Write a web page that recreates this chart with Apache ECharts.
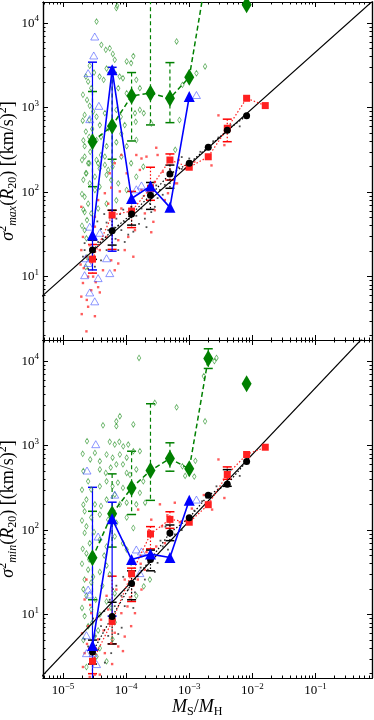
<!DOCTYPE html>
<html>
<head>
<meta charset="utf-8">
<title>sigma2 vs MS/MH</title>
<script src="https://cdn.jsdelivr.net/npm/echarts@6/dist/echarts.min.js"></script>
<style>html,body{margin:0;padding:0;background:#fff;}</style>
</head>
<body>
<div id="main" style="width:374px;height:720px"></div>
<script>
// bin centres (MS/MH)
var binX = [2.93e-5, 6.0e-5, 1.22e-4, 2.43e-4, 4.94e-4, 1.0e-3, 2.0e-3, 4.0e-3, 8.1e-3, 1.6e-2];

// top panel: sigma^2_max
var greenTop = [395, 607, 1377, 1483, 1292, 2290, 50000, '-', 16480];
var redTop = [16.1, 53.6, 59.7, 111, 240, 197, 262, 570, 1290, 1057];
var blackTop = [20.6, 35, 55, 92, 164, 220, 340, 540, 804];
var blueTop = [31, 2800, 84, 118, 66, 1350];
var greenErrTop = [[116, 1550], [245, 2600], [403, 2600], [624, 40000], [664, 3410]];
var redErrTop = [[11, 24], [21, 61], [38, 102], [80, 197], [139, 283], null, null, [395, 730]];
var blackErrTop = [[16, 27], [23.6, 61], [40.7, 75], [62.5, 130], [111, 209]];
var blueErrTop = [[12, 3450], [20, 3000]];

// bottom panel: sigma^2_min
var greenBot = [47, 156, 316, 507, 703, 531, 10770, '-', 5400];
var redBot = [2.8, 8.3, 30.5, 90, 134, 124, 200, 455, 785, 957];
var blackBot = [3.6, 9.5, 23.3, 44.8, 92.7, 140, 258, 350, 650];
var blueBot = [4.3, 136, 44.8, 52, 47.5, 226];
var greenErrBot = [[15, 167], [63, 463], [153, 858], [225, 3130], [498, 1080], null, [8190, 14000]];
var redErrBot = [[2, 4], [4.5, 28.5], [14.3, 35.5], [60, 110], [105, 165], null, null, [400, 560]];
var blackErrBot = [[2.6, 5], [4.5, 14], [15, 33], [33, 58], [75, 115], null, null, [330, 520]];
var blueErrBot = [[1, 321], [9.6, 214]];

// model lines and mass-resolution limit
var modelTop = [[1e-6, 2.1], [1, 21100]];
var modelBot = [[1e-6, 0.56], [1, 29600]];
var resLimit = 1.8e-5;

// individual haloes, top panel
var greenSmallTop = [[3.4e-5,10430],[7.0e-5,15100],[7.2e-5,16000],[4.05e-5,5530],[4.76e-5,4830],[5.5e-5,5040],[6.15e-5,4320],[6.6e-5,3675],[1.02e-4,3520],[1.3e-4,4070],[1.2e-4,3370],[2.65e-5,3130],[2.3e-5,2330],[2.5e-5,2030],[3.8e-5,2330],[4.4e-5,2130],[4.9e-5,2900],[6.1e-5,2900],[7.9e-5,2330],[8.9e-5,2230],[7.5e-5,1700],[1.02e-4,1480],[1.45e-4,2130],[1.65e-4,1700],[2.07e-5,1420],[2.4e-5,1233],[2.65e-5,1050],[2.2e-5,820],[2.6e-5,714],[3.4e-5,780],[3.83e-5,622],[4.6e-5,860],[5.2e-5,570],[7.0e-5,940],[8.2e-5,780],[9.5e-5,622],[1.38e-4,860],[1.65e-4,940],[1.9e-4,860],[1.42e-4,680],[2.5e-4,650],[2.3e-5,520],[2.6e-5,450],[2.2e-5,350],[3.4e-5,414],[4.0e-5,450],[4.9e-5,350],[7.0e-5,390],[8.4e-5,490],[1.02e-4,350],[1.45e-4,414],[2.2e-5,263],[2.6e-5,220],[3.4e-5,240],[3.8e-5,190],[4.6e-5,263],[6.1e-5,200],[8.4e-5,263],[1.2e-4,220],[1.87e-4,200],[2.3e-5,167],[3.2e-5,152],[6.3e-4,6070],[1.78e-3,3070],[1.3e-3,2550],[7.8e-4,1860],[7.0e-4,714],[2.65e-5,127],[3.2e-5,106],[2.2e-5,88],[2.5e-5,73],[2.2e-5,58],[2.4e-5,46.7],[3.8e-5,116],[4.9e-5,160],[5.8e-5,139],[7.5e-5,127],[1.02e-4,106],[2.2e-5,35.5],[2.35e-5,28.4],[2.8e-5,56],[3.6e-5,64],[4.9e-5,73],[7.0e-5,80],[1.45e-4,152],[2.4e-5,17],[2.3e-5,13],[2.5e-5,220],[2.35e-5,167],[4.0e-5,275],[4.6e-5,210],[5.2e-5,183],[6.1e-5,230],[3.6e-5,220],[2.05e-5,700],[2.1e-5,410],[2.0e-5,240],[2.1e-5,140],[2.0e-5,95],[2.1e-5,62],[2.0e-5,40],[2.7e-5,300],[2.9e-5,560],[3.0e-5,900],[2.8e-5,1700],[3.1e-5,2600],[6.0e-4,317]];
var redSmallTop = [[8.4e-5,275],[1.45e-4,275],[1.75e-4,250],[3.15e-4,275],[6.8e-4,240],[3.8e-4,174],[2.85e-4,132],[1.75e-4,106],[7.95e-5,102],[4.6e-5,97],[3.6e-5,80.5],[1.95e-5,67],[8.4e-5,64],[1.98e-4,56],[2.7e-4,44.5],[1.38e-4,35.5],[1.08e-4,29.5],[7.5e-5,27],[4.9e-5,29.5],[3.2e-5,39],[2.07e-5,29.5],[1.95e-5,20.6],[2.35e-5,17.2],[3.83e-5,20.6],[5.8e-5,15.6],[9.5e-5,20.6],[4.3e-5,11.9],[2.5e-5,10],[2.07e-5,8.4],[2.8e-5,6.9],[1.95e-5,5.8],[2.5e-5,4.4],[3.2e-5,3.4],[2.35e-5,2.25],[6.6e-5,11.9],[7.5e-5,14.3],[1.3e-4,17.2],[2.5e-4,33.5],[2.85e-4,61],[4.1e-4,80.5],[8.6e-4,188],[1.2e-3,229],[4.6e-4,97],[5.9e-4,127],[5.8e-5,113],[5.2e-5,73],[3.2e-5,51],[1.9e-5,13.9],[3.0e-5,10],[3.6e-5,7.5],[2.9e-3,810],[2.25e-3,207],[6.4e-4,127],[3.6e-3,360],[5.5e-5,167],[6.6e-5,220],[2.1e-4,263],[1.02e-4,167],[1.65e-4,183],[3.0e-4,335],[2.65e-5,23.5],[2.85e-5,14.8],[3.3e-5,8.6],[2.13e-5,12.6],[3.83e-5,6.5],[2.38e-5,5.3],[1.98e-5,3.6]];
var blackSmallTop = [[2.2e-5,24.9],[2.65e-5,28.4],[2.2e-5,20.6],[3.6e-5,25.7],[3.2e-5,19.8],[4.0e-5,36.6],[4.9e-5,43.6],[5.8e-5,31.4],[7.5e-5,40],[7.0e-5,48.5],[8.4e-5,35.5],[9.5e-5,44.5],[1.08e-4,31.4],[1.45e-4,52.5],[1.75e-4,64],[1.98e-4,48.5],[2.38e-4,73],[3.15e-4,85],[3.43e-4,106],[4.1e-4,122],[5.9e-4,152],[7.6e-4,188],[2.65e-5,15.6],[4.0e-5,15.6],[2.5e-5,12.4],[4.9e-5,20.6],[6.1e-5,23.5],[3.2e-5,13.1],[9.5e-5,25.7],[1.3e-4,34],[2.1e-4,38.5],[2.85e-4,67],[2.07e-5,17.2],[7.5e-5,20.6],[5.2e-5,35.5],[1.2e-4,67],[3.8e-4,93],[4.6e-4,139],[7.6e-4,260],[2.9e-3,443],[6.3e-3,600],[6.8e-4,196],[3.0e-5,33],[3.5e-5,45],[4.2e-5,28],[4.5e-5,55],[5.5e-5,50],[6.5e-5,38],[6.8e-5,28],[8.0e-5,55],[9.0e-5,62],[1.1e-4,48],[1.15e-4,80],[1.6e-4,42],[1.9e-4,90],[2.5e-4,58],[2.2e-4,100],[3.0e-4,120],[5.0e-4,180],[1.0e-3,250],[1.5e-3,300],[2.4e-3,400],[4.5e-3,620]];
var blueSmallTop = [[3.18e-5,6940],[3.07e-5,4140],[2.5e-5,2560],[3.7e-5,1050],[2.65e-5,730],[1.3e-3,1410],[1.75e-4,120],[1.45e-4,108],[2.65e-5,39],[2.5e-5,14.5],[2.2e-5,10.4],[3.6e-5,9.6],[5.5e-5,11],[2.65e-5,6.5],[3.18e-5,5.1],[2.3e-5,16.5],[4.9e-5,16.5],[3.83e-5,33]];

// individual haloes, bottom panel
var greenSmallBot = [[1.6e-4,10900],[2.85e-4,3210],[6.3e-4,2840],[4.3e-5,1740],[7.0e-5,1940],[7.95e-5,2230],[7.0e-5,1700],[1.3e-4,1780],[2.4e-5,1130],[3.2e-5,820],[2.7e-5,686],[3.83e-5,655],[5.5e-5,1110],[6.6e-5,1030],[7.8e-5,1110],[9.0e-5,980],[1.08e-4,1030],[1.3e-4,860],[4.9e-5,785],[6.1e-5,720],[7.95e-5,785],[1.02e-4,720],[1.65e-4,860],[3.83e-5,522],[4.76e-5,475],[5.7e-5,550],[7.0e-5,600],[8.9e-5,600],[1.02e-4,475],[1.45e-4,522],[2.5e-5,378],[2.8e-5,302],[3.83e-5,330],[4.9e-5,378],[6.1e-5,330],[7.4e-5,365],[8.9e-5,316],[1.15e-4,452],[1.65e-4,276],[1.87e-4,378],[2.35e-5,230],[3.2e-5,202],[4.0e-5,193],[4.9e-5,230],[6.6e-5,263],[7.95e-5,202],[1.02e-4,211],[1.45e-4,202],[2.0e-4,211],[2.2e-5,167],[2.8e-5,141],[3.83e-5,153],[5.2e-5,133],[7.0e-5,122],[1.02e-4,141],[1.3e-4,106],[2.35e-5,111],[2.7e-3,10900],[2.5e-3,10000],[1.7e-3,6650],[1.78e-3,1940],[1.25e-3,660],[1.2e-3,430],[7.8e-4,570],[8.6e-4,438],[2.2e-5,92.7],[2.65e-5,70],[2.35e-5,53],[3.83e-5,77],[4.9e-5,64],[6.6e-5,84],[8.9e-5,70],[2.5e-5,34],[2.2e-5,26],[2.8e-5,24],[3.83e-5,32],[4.9e-5,38],[2.35e-5,16.7],[2.8e-5,11.5],[2.2e-5,9.6],[2.5e-5,7.3],[3.83e-5,10],[4.9e-5,14.3],[6.6e-5,17.8],[1.45e-4,16.7],[1.9e-4,21.6],[2.38e-4,26],[3.83e-5,4.0],[4.9e-5,2.8],[6.1e-5,5.1],[6.6e-5,8.1],[3.2e-5,5.6],[3.4e-5,3.2],[2.35e-5,2.4],[1.2e-4,41],[1.02e-4,58.9],[2.05e-5,800],[2.1e-5,500],[2.0e-5,300],[2.1e-5,200],[2.0e-5,130],[2.05e-5,60],[2.0e-5,40],[2.1e-5,20],[2.0e-5,12],[2.1e-5,5],[2.6e-5,45],[3.0e-5,28],[3.3e-5,15],[2.9e-5,8],[3.6e-5,6.5],[4.2e-5,22],[5.5e-5,30],[5.8e-5,12],[4.5e-5,50],[3.1e-5,95]];
var redSmallBot = [[5.9e-4,211],[3.43e-4,202],[2.5e-4,133],[4.1e-4,70],[1.98e-4,34],[1.38e-4,10.4],[9.5e-5,5.5],[6.6e-5,6.1],[4.6e-5,3.5],[2.2e-5,3.5],[3.2e-5,1.95],[2.07e-5,2.4],[8.4e-5,10.4],[4.9e-5,16.7],[2.35e-5,26],[2.5e-5,7.3],[7.0e-5,19.8],[1.75e-4,19.8],[1.15e-4,16],[1.53e-4,26],[9.5e-5,26],[3.0e-4,64],[3.7e-4,111],[5.8e-5,4.6],[3.6e-5,5.1],[8.9e-5,3.7],[1.2e-4,7.3],[2.2e-5,15.1],[2.8e-5,10.4],[4.0e-5,8.7],[5.2e-5,11.5],[2.65e-5,1.83],[3.83e-5,1.95],[1.55e-4,175],[7.1e-4,124],[2.9e-3,686],[3.6e-3,240],[2.4e-5,4.5],[3.0e-5,3.0],[2.0e-5,6],[2.7e-5,13],[3.4e-5,9],[4.4e-5,6.5],[6.0e-5,2.6],[7.5e-5,4.2],[1.05e-4,12.5],[1.3e-4,22],[1.7e-4,40],[2.1e-4,55],[2.3e-4,100],[4.5e-4,150],[1.1e-3,180],[1.7e-3,260],[2.3e-3,175]];
var blackSmallBot = [[2.2e-5,5.1],[3.2e-5,5.6],[4.0e-5,7.3],[5.2e-5,5.6],[6.6e-5,8.7],[6.6e-5,12.6],[8.4e-5,16.7],[9.5e-5,12.6],[1.08e-4,19.8],[1.38e-4,18.3],[1.55e-4,28.5],[1.98e-4,26],[2.2e-4,34],[2.85e-4,32],[3.15e-4,41],[3.8e-4,64],[4.6e-4,58.9],[5.9e-4,89],[7.6e-4,100],[3.6e-5,3.85],[2.5e-5,4.2],[5.8e-5,3.5],[4.6e-5,2.7],[7.5e-5,5.9],[2.8e-5,2.7],[1.75e-4,49],[1.2e-4,41],[2.7e-3,330],[6.3e-3,438],[3.0e-5,9],[4.5e-5,11],[5.5e-5,15],[7.0e-5,22],[9.0e-5,28],[1.1e-4,33],[1.3e-4,12],[1.7e-4,36],[2.5e-4,48],[3.5e-4,75],[4.2e-4,110],[1.2e-3,170],[1.6e-3,220],[8.5e-5,7],[6.2e-5,20]];
var blueSmallBot = [[2.4e-5,507],[3.3e-5,1040],[6.6e-5,263],[1.45e-4,59],[1.75e-4,56],[1.3e-3,230],[2.65e-5,17.3],[3.6e-5,84],[2.35e-5,5.7],[3.4e-5,2.6],[3.0e-5,3.5],[1.65e-4,31],[2.5e-5,19.8],[2.35e-5,3.5]];

// ticks
var xMajor = [1e-5, 1e-4, 1e-3, 1e-2, 1e-1];
var yMajor = [1e1, 1e2, 1e3, 1e4];
function minorTicks(e0, e1) {
    var out = [];
    for (var e = e0; e <= e1; e++) {
        for (var m = 2; m <= 9; m++) out.push(m * Math.pow(10, e));
    }
    return out;
}
var xMinor = minorTicks(-6, -1);
var yMinor = minorTicks(0, 4);

var X_MIN = 4.82e-6, X_MAX = 0.785;
var Y_MIN = 1.778, Y_MAX = 17780;
var SERIF = '"Liberation Serif", "DejaVu Serif", serif';

var labelRich = {
    b: {fontFamily: SERIF, fontSize: 13, color: '#000', lineHeight: 17},
    s: {fontFamily: SERIF, fontSize: 9, color: '#000', lineHeight: 10, verticalAlign: 'top'}
};
function powLabel(v) {
    var e = Math.round(Math.log(v) / Math.LN10);
    return '{b|10}{s|' + (e < 0 ? '\u2212' + (-e) : e) + '}';
}

function xAxisFor(grid, pos, ticks, len, labels) {
    return {
        type: 'log', logBase: 10, gridIndex: grid, position: pos, min: X_MIN, max: X_MAX,
        axisLine: {show: true, onZero: false, lineStyle: {color: '#000', width: 1.2}},
        axisTick: {show: true, inside: true, length: len, customValues: ticks, lineStyle: {color: '#000', width: 1}},
        axisLabel: labels ? {show: true, customValues: xMajor, formatter: powLabel, rich: labelRich, margin: 4} : {show: false},
        splitLine: {show: false}
    };
}
function yAxisFor(grid, pos, ticks, len, labels, name) {
    var ax = {
        type: 'log', logBase: 10, gridIndex: grid, position: pos, min: Y_MIN, max: Y_MAX,
        axisLine: {show: true, onZero: false, lineStyle: {color: '#000', width: 1.2}},
        axisTick: {show: true, inside: true, length: len, customValues: ticks, lineStyle: {color: '#000', width: 1}},
        axisLabel: labels ? {show: true, customValues: yMajor, formatter: powLabel, rich: labelRich, margin: 4} : {show: false},
        splitLine: {show: false}
    };
    if (name) {
        ax.name = name;
        ax.nameLocation = 'middle';
        ax.nameGap = 24;
        ax.nameMoveOverlap = false;
        ax.nameRotate = 90;
        ax.nameTextStyle = {
            rich: {
                n: {fontFamily: SERIF, fontSize: 18, color: '#000', lineHeight: 22},
                i: {fontFamily: SERIF, fontSize: 18, fontStyle: 'italic', color: '#000', lineHeight: 22},
                sp: {fontFamily: SERIF, fontSize: 12, color: '#000', lineHeight: 13, verticalAlign: 'top'},
                sb: {fontFamily: SERIF, fontSize: 12, color: '#000', lineHeight: 13, verticalAlign: 'bottom'},
                si: {fontFamily: SERIF, fontSize: 12, fontStyle: 'italic', color: '#000', lineHeight: 13, verticalAlign: 'bottom'}
            }
        };
    }
    return ax;
}

var xAxes = [], yAxes = [];
[0, 1].forEach(function (g) {
    xAxes.push(xAxisFor(g, 'bottom', xMajor, 5, g === 1));
    xAxes.push(xAxisFor(g, 'bottom', xMinor, 2.5, false));
    xAxes.push(xAxisFor(g, 'top', xMajor, 5, false));
    xAxes.push(xAxisFor(g, 'top', xMinor, 2.5, false));
    var nm = g === 0 ? '{i|\u03c3}{sp|2}{si|max}{n|(}{i|R}{sb|20}{n|) [(km/s)}{sp|2}{n|]}'
                     : '{i|\u03c3}{sp|2}{si|min}{n|(}{i|R}{sb|20}{n|) [(km/s)}{sp|2}{n|]}';
    yAxes.push(yAxisFor(g, 'left', yMajor, 5, true, nm));
    yAxes.push(yAxisFor(g, 'left', yMinor, 2.5, false));
    yAxes.push(yAxisFor(g, 'right', yMajor, 5, false));
    yAxes.push(yAxisFor(g, 'right', yMinor, 2.5, false));
});

function pairs(vals) {
    return vals.map(function (v, i) { return [binX[i], v]; });
}
function errData(errs) {
    var out = [];
    errs.forEach(function (e, i) { if (e) out.push([binX[i], e[0], e[1]]); });
    return out;
}
function errRender(color, dash) {
    return function (params, api) {
        var x = api.value(0);
        var hi = api.coord([x, api.value(2)]);
        var lo = api.coord([x, api.value(1)]);
        var w = 4.5;
        var cap = {stroke: color, lineWidth: 1.5};
        return {
            type: 'group',
            children: [
                {type: 'line', shape: {x1: hi[0], y1: hi[1], x2: lo[0], y2: lo[1]}, style: {stroke: color, lineWidth: 1.2, lineDash: dash}},
                {type: 'line', shape: {x1: hi[0] - w, y1: hi[1], x2: hi[0] + w, y2: hi[1]}, style: cap},
                {type: 'line', shape: {x1: lo[0] - w, y1: lo[1], x2: lo[0] + w, y2: lo[1]}, style: cap}
            ]
        };
    };
}

function panelSeries(g, d) {
    var xi = g * 4, yi = g * 4;
    function scatter(data, opts) {
        return Object.assign({type: 'scatter', xAxisIndex: xi, yAxisIndex: yi, data: data, silent: true}, opts);
    }
    function err(data, color, dash) {
        return {type: 'custom', xAxisIndex: xi, yAxisIndex: yi, data: errData(data), clip: true, silent: true,
            encode: {x: 0, y: [1, 2]}, renderItem: errRender(color, dash)};
    }
    function line(data, color, lineType, width, symbol, size) {
        return {type: 'line', xAxisIndex: xi, yAxisIndex: yi, data: pairs(data), clip: true, silent: true,
            symbol: symbol, symbolSize: size, showSymbol: true, connectNulls: false,
            lineStyle: {color: color, width: width, type: lineType},
            itemStyle: {color: color, borderWidth: 0}};
    }
    return [
        scatter(d.gs, {symbol: 'diamond', symbolSize: [3.5, 5.5], itemStyle: {color: 'rgba(0,0,0,0)', borderColor: '#3c9c3c', borderWidth: 0.8}}),
        scatter(d.rs, {symbol: 'rect', symbolSize: 2.4, itemStyle: {color: '#ff4040', opacity: 0.85}}),
        scatter(d.ks, {symbol: 'rect', symbolSize: 1.8, itemStyle: {color: '#222', opacity: 0.8}}),
        scatter(d.bs, {symbol: 'triangle', symbolSize: [8, 7], itemStyle: {color: 'rgba(0,0,0,0)', borderColor: '#4d5cff', borderWidth: 0.8}}),
        {type: 'line', xAxisIndex: xi, yAxisIndex: yi, data: d.model, symbol: 'none', clip: true, silent: true,
            lineStyle: {color: '#000', width: 1.2},
            markLine: {silent: true, symbol: 'none', label: {show: false},
                lineStyle: {color: '#000', width: 1, type: [3, 2.5]},
                data: [{xAxis: resLimit}]}},
        err(d.ge, '#008000', [4, 3]),
        err(d.re, '#ff0000', [1.5, 2]),
        err(d.ke, '#000000', [1.5, 2]),
        err(d.be, '#0000ff', null),
        line(d.r, '#ff2020', [1.5, 2], 1.2, 'rect', 7),
        line(d.k, '#000000', [1.5, 2], 1.2, 'circle', 7),
        line(d.g, '#008000', [5, 3], 1.5, 'diamond', [10, 17]),
        line(d.b, '#0000ff', 'solid', 1.6, 'triangle', [11, 11])
    ];
}

var series = panelSeries(0, {
    gs: greenSmallTop, rs: redSmallTop, ks: blackSmallTop, bs: blueSmallTop, model: modelTop,
    ge: greenErrTop, re: redErrTop, ke: blackErrTop, be: blueErrTop,
    g: greenTop, r: redTop, k: blackTop, b: blueTop
}).concat(panelSeries(1, {
    gs: greenSmallBot, rs: redSmallBot, ks: blackSmallBot, bs: blueSmallBot, model: modelBot,
    ge: greenErrBot, re: redErrBot, ke: blackErrBot, be: blueErrBot,
    g: greenBot, r: redBot, k: blackBot, b: blueBot
}));

var myChart = echarts.init(document.getElementById('main'), null, {renderer: 'canvas'});
myChart.setOption({
    animation: false,
    backgroundColor: '#fff',
    grid: [
        {left: 43, top: 2, width: 329, height: 338, containLabel: false, outerBoundsMode: 'none'},
        {left: 43, top: 340, width: 329, height: 338, containLabel: false, outerBoundsMode: 'none'}
    ],
    xAxis: xAxes,
    yAxis: yAxes,
    graphic: [{
        type: 'text', left: 172, top: 698,
        style: {
            text: '{i|M}{sb|S}{n|/}{i|M}{sb|H}',
            rich: {
                n: {fontFamily: SERIF, fontSize: 18, color: '#000', lineHeight: 22},
                i: {fontFamily: SERIF, fontSize: 18, fontStyle: 'italic', color: '#000', lineHeight: 22},
                sb: {fontFamily: SERIF, fontSize: 12, color: '#000', lineHeight: 14, verticalAlign: 'bottom'}
            }
        }
    }],
    series: series
});
</script>
</body>
</html>
